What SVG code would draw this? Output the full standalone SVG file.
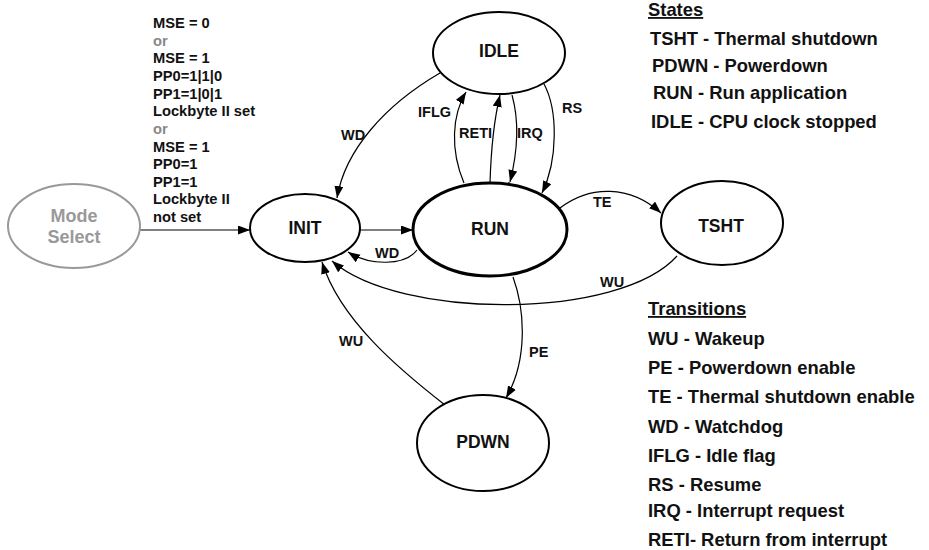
<svg xmlns="http://www.w3.org/2000/svg" width="929" height="550" viewBox="0 0 929 550">
<style>
text{font-family:"Liberation Sans",Arial,sans-serif;font-weight:bold;fill:#111}
.node{fill:#fff;stroke:#000;stroke-width:2}
.run{stroke-width:3}
.ms{fill:#fff;stroke:#999;stroke-width:2}
.nl{font-size:17.5px;text-anchor:middle}
.msl{font-size:18px;text-anchor:middle;fill:#999}
.cl{font-size:14.5px}
.cond{font-size:14.7px}
.or{fill:#888}
.leg{font-size:18.4px}
.edge{fill:none;stroke:#000;stroke-width:1.2}
</style>
<defs>
<marker id="ah" markerUnits="userSpaceOnUse" markerWidth="13" markerHeight="10" refX="12" refY="4.5" orient="auto">
<path d="M0,0 L12,4.5 L0,9 z" fill="#000"/>
</marker>
</defs>
<g id="connectors">
<path class="edge" d="M140,230 L250,230" marker-end="url(#ah)"/>
<path class="edge" d="M359,230 L413,230" marker-end="url(#ah)"/>
<path class="edge" d="M417,250 C405,266 370,266 348,252" marker-end="url(#ah)"/>
<path class="edge" d="M440,73 C385,105 345,150 337,198" marker-end="url(#ah)"/>
<path class="edge" d="M464,183 C450,150 452,115 466,92" marker-end="url(#ah)"/>
<path class="edge" d="M509,182 C506,214 489,214 490,183 C491,150 494,120 500,95" marker-end="url(#ah)"/>
<path class="edge" d="M512,95 C519,120 518,150 510,182" marker-end="url(#ah)"/>
<path class="edge" d="M544,84 C558,110 558,160 542,193" marker-end="url(#ah)"/>
<path class="edge" d="M560,208 C590,185 630,185 661,213" marker-end="url(#ah)"/>
<path class="edge" d="M677,256 C620,320 400,320 332,261" marker-end="url(#ah)"/>
<path class="edge" d="M445,405 C400,370 340,320 322,262" marker-end="url(#ah)"/>
<path class="edge" d="M513,277 C525,310 528,360 506,398" marker-end="url(#ah)"/>
<text class="cl" x="341" y="140">WD</text>
<text class="cl" x="418" y="117">IFLG</text>
<text class="cl" x="459" y="138">RETI</text>
<text class="cl" x="517" y="138">IRQ</text>
<text class="cl" x="562" y="113">RS</text>
<text class="cl" x="593" y="207">TE</text>
<text class="cl" x="375" y="258">WD</text>
<text class="cl" x="600" y="287">WU</text>
<text class="cl" x="339" y="346">WU</text>
<text class="cl" x="529" y="357">PE</text>
</g>
<g id="mode-select">
<ellipse class="ms" cx="74" cy="226" rx="66" ry="42"/>
<text class="msl" x="74" y="222">Mode</text>
<text class="msl" x="74" y="243">Select</text>
</g>
<g id="init">
<ellipse class="node" cx="305" cy="228" rx="55" ry="34"/>
<text class="nl" x="305" y="234">INIT</text>
</g>
<g id="run">
<ellipse class="node run" cx="490" cy="229.5" rx="77" ry="46.5"/>
<text class="nl" x="490" y="235">RUN</text>
</g>
<g id="idle">
<ellipse class="node" cx="499" cy="53" rx="66" ry="41"/>
<text class="nl" x="499" y="57">IDLE</text>
</g>
<g id="tsht">
<ellipse class="node" cx="722" cy="223" rx="61" ry="42"/>
<text class="nl" x="721" y="232">TSHT</text>
</g>
<g id="pdwn">
<ellipse class="node" cx="483" cy="443" rx="66" ry="48"/>
<text class="nl" x="483" y="448">PDWN</text>
</g>
<g id="conditions">
<text class="cond" x="153" y="28">MSE = 0</text>
<text class="cond or" x="153" y="45.6">or</text>
<text class="cond" x="153" y="63.3">MSE = 1</text>
<text class="cond" x="153" y="80.9">PP0=1|1|0</text>
<text class="cond" x="153" y="98.6">PP1=1|0|1</text>
<text class="cond" x="153" y="116.2">Lockbyte II set</text>
<text class="cond or" x="153" y="133.8">or</text>
<text class="cond" x="153" y="151.5">MSE = 1</text>
<text class="cond" x="153" y="169.1">PP0=1</text>
<text class="cond" x="153" y="186.8">PP1=1</text>
<text class="cond" x="153" y="204.4">Lockbyte II</text>
<text class="cond" x="153" y="222">not set</text>
</g>
<g id="legend">
<text class="leg" x="648" y="16" text-decoration="underline">States</text>
<text class="leg" x="650" y="45">TSHT - Thermal shutdown</text>
<text class="leg" x="652" y="72">PDWN - Powerdown</text>
<text class="leg" x="653" y="99">RUN - Run application</text>
<text class="leg" x="651" y="128">IDLE - CPU clock stopped</text>
<text class="leg" x="648" y="315" text-decoration="underline">Transitions</text>
<text class="leg" x="648" y="345">WU - Wakeup</text>
<text class="leg" x="648" y="374">PE - Powerdown enable</text>
<text class="leg" x="648" y="403">TE - Thermal shutdown enable</text>
<text class="leg" x="648" y="433">WD - Watchdog</text>
<text class="leg" x="648" y="462">IFLG - Idle flag</text>
<text class="leg" x="648" y="491">RS - Resume</text>
<text class="leg" x="648" y="517">IRQ - Interrupt request</text>
<text class="leg" x="648" y="546">RETI- Return from interrupt</text>
</g>
</svg>
